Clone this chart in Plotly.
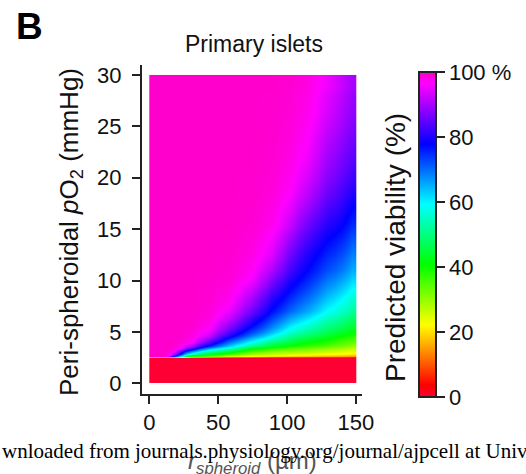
import plotly.graph_objects as go

# ---- data ----
# heatmap cell edges (radius, um) and (pO2, mmHg)
r_edges = [0, 8, 14, 17, 21, 26, 36, 50, 66, 82, 96, 108, 122, 134, 144, 150]
po2_edges = [0, 2.5, 2.6, 2.7, 2.9, 3.2, 3.6, 4.3, 5.0, 6.0, 7.0, 9.0, 11, 14, 17, 20, 24, 28, 30]

# predicted viability (%) per cell; one row per pO2 cell (bottom -> top),
# columns follow r cells (centres ~4, 11, 15.5, 19, 23.5, 31, 43, 58, 74, 89, 102, 115, 128, 139, 147)
viability_pct = [
    [0, 0, 0, 0, 0, 0, 0, 0, 0, 0, 0, 0, 0, 0, 0],
    [0, 0, 0, 0, 0, 0, 0, 0, 0, 0, 0, 0, 0, 0, 0],
    [100, 100, 80, 65, 50, 33, 28, 22, 19, 17, 16, 15, 14, 13, 12],
    [100, 100, 94, 82, 66, 44, 38, 30, 25, 23, 22, 21, 19.5, 19, 18],
    [100, 100, 98.5, 93, 80, 64, 50, 42, 33, 30, 28, 27, 25, 24, 23],
    [100, 100, 99.7, 98.5, 95, 83, 67, 56, 43, 38, 35, 33, 31, 29, 27],
    [100, 100, 100, 99.7, 99, 96, 84, 69, 58, 49, 45, 40.5, 38, 35, 33],
    [100, 100, 100, 100, 99.7, 98.5, 93, 80, 69, 60, 52, 48, 44, 41, 38.5],
    [100, 100, 100, 100, 100, 99.4, 97, 87.5, 77, 68, 60, 55, 50, 47, 44],
    [100, 100, 100, 100, 100, 99.8, 98.8, 93, 83, 74, 67, 62, 56, 52.5, 49],
    [100, 100, 100, 100, 100, 100, 99.5, 97, 89.5, 80, 74, 69, 63, 59, 55],
    [100, 100, 100, 100, 100, 100, 99.8, 99, 95.5, 87, 80, 75, 69.5, 66, 62],
    [100, 100, 100, 100, 100, 100, 100, 99.7, 98.3, 94, 86, 80, 75.5, 72.5, 68.5],
    [100, 100, 100, 100, 100, 100, 100, 100, 99.4, 97.5, 92.5, 86, 81, 78.5, 75],
    [100, 100, 100, 100, 100, 100, 100, 100, 99.8, 98.8, 96.3, 91.5, 86, 83, 80],
    [100, 100, 100, 100, 100, 100, 100, 100, 100, 99.5, 98.2, 95.3, 90, 87, 84.5],
    [100, 100, 100, 100, 100, 100, 100, 100, 100, 99.8, 99.2, 97.3, 93.5, 90.5, 88],
    [100, 100, 100, 100, 100, 100, 100, 100, 100, 100, 99.6, 98.3, 95.5, 92.5, 90],
]

x_ticks = [0, 50, 100, 150]
y_ticks = [0, 5, 10, 15, 20, 25, 30]
cb_ticks = [0, 20, 40, 60, 80, 100]
cb_ticktext = ["0", "20", "40", "60", "80", "100 %"]

# ---- style ----
rainbow = [
    [0.0, "#FF0033"],
    [0.037, "#FF0000"],
    [0.222, "#FFFF00"],
    [0.407, "#00FF00"],
    [0.593, "#00FFFF"],
    [0.778, "#0000FF"],
    [0.963, "#FF00FF"],
    [1.0, "#FF00CC"],
]

W, H = 526, 474
# plot area target in screen pixels: x 142..362, y 65..394
L, T = 142, 65
pw, ph = 220, 329
R, B = W - L - pw, H - T - ph


def px(xs):
    return (xs - L) / pw


def py(ys):
    return (T + ph - ys) / ph


FONT = "Liberation Sans, Arial, Helvetica, sans-serif"

fig = go.Figure()
fig.add_trace(go.Heatmap(
    x=r_edges, y=po2_edges, z=viability_pct,
    zmin=0, zmax=100, zsmooth="best", colorscale=rainbow,
    hoverinfo="skip",
    colorbar=dict(
        x=px(419), xanchor="left", xpad=0, ypad=0,
        y=py(234.5), yanchor="middle",
        lenmode="pixels", len=325,
        thicknessmode="pixels", thickness=17,
        outlinecolor="#222", outlinewidth=2,
        tickmode="array", tickvals=cb_ticks, ticktext=cb_ticktext,
        ticks="outside", ticklen=8, tickwidth=2, tickcolor="#222",
        tickfont=dict(family=FONT, size=22, color="#111"),
    ),
))

axis_common = dict(
    showgrid=False, zeroline=False, showline=True, linecolor="#222", linewidth=2,
    ticks="outside", ticklen=8, tickwidth=2, tickcolor="#222",
    tickfont=dict(family=FONT, size=22, color="#111"),
)
fig.update_xaxes(range=[-5.3, 154.4], tickmode="array", tickvals=x_ticks, **axis_common)
fig.update_yaxes(range=[-1.04, 30.97], tickmode="array", tickvals=y_ticks,
                 ticklabelstandoff=6, **axis_common)

ann = [
    dict(text="<b>B</b>", x=px(14), y=py(26), xanchor="left", yanchor="middle",
         font=dict(family=FONT, size=37, color="#000")),
    dict(text="Primary islets", x=px(254), y=py(44), xanchor="center", yanchor="middle",
         font=dict(family=FONT, size=23, color="#111")),
    dict(text="Peri-spheroidal <i>p</i>O<sub>2</sub> (mmHg)", x=px(70), y=py(232),
         xanchor="center", yanchor="middle", textangle=-90,
         font=dict(family=FONT, size=26, color="#111")),
    dict(text="Predicted viability (%)", x=px(395), y=py(248),
         xanchor="center", yanchor="middle", textangle=-90,
         font=dict(family=FONT, size=28, color="#111")),
    dict(text="<i>r</i><sub><i>spheroid</i></sub> (µm)", x=px(252), y=py(462),
         xanchor="center", yanchor="middle",
         font=dict(family=FONT, size=24, color="#555")),
    dict(text="wnloaded from journals.physiology.org/journal/ajpcell at Univ",
         x=px(0), y=py(451), xanchor="left", yanchor="middle",
         font=dict(family="Liberation Serif, Times New Roman, serif", size=21, color="#000")),
]
for a in ann:
    a.update(xref="paper", yref="paper", showarrow=False)

fig.update_layout(
    width=W, height=H, margin=dict(l=L, r=R, t=T, b=B, autoexpand=False),
    paper_bgcolor="white", plot_bgcolor="white",
    annotations=ann, showlegend=False,
)

fig.write_html("out.html", config={"displayModeBar": False},
               post_script="document.body.style.margin='0';")
